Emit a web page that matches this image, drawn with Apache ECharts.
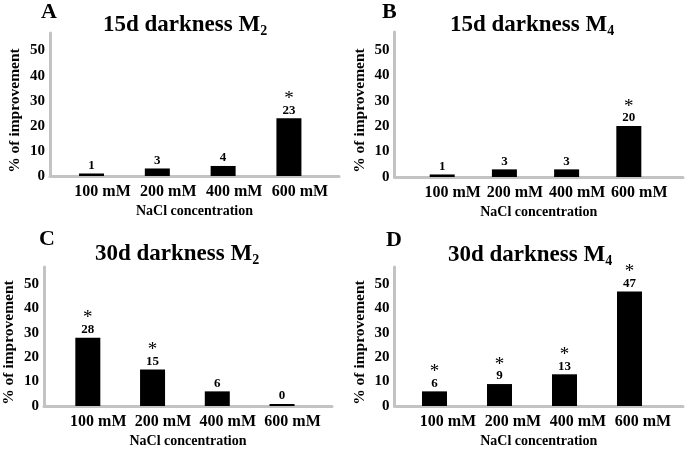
<!DOCTYPE html>
<html>
<head>
<meta charset="utf-8">
<script src="https://cdn.jsdelivr.net/npm/echarts@6/dist/echarts.min.js"></script>
<style>html,body{margin:0;padding:0;background:#fff}#c{width:685px;height:449px}</style>
</head>
<body>
<div id="c"></div>
<script>
// ---- data ----
const categories = ['100 mM', '200 mM', '400 mM', '600 mM'];
const categoryIndex = [1, 2, 3, 4];
const yTicks = [0, 10, 20, 30, 40, 50];
const panelLetters = ['A', 'B', 'C', 'D'];
const panelTitles = ['15d darkness M', '15d darkness M', '30d darkness M', '30d darkness M'];
const panelSubs = ['2', '4', '2', '4'];
const valuesA = [1, 3, 4, 23];
const valuesB = [1, 3, 3, 20];
const valuesC = [28, 15, 6, 0];
const valuesD = [6, 9, 13, 47];
const sigA = [0, 0, 0, 1];
const sigB = [0, 0, 0, 1];
const sigC = [1, 1, 0, 0];
const sigD = [1, 1, 1, 1];
const yName = '% of improvement';
const xName = 'NaCl concentration';

// ---- layout ----
const FONT = 'Liberation Serif';
const AXIS_GREY = '#c3c3c3';
const panels = [
  { values: valuesA, sig: sigA, grid: { left: 50, top: 33, width: 289, height: 143 }, xr: [0.369, 4.761], shift: 22,
    title: { left: 103, top: 12 }, letter: { left: 41, top: 1 } },
  { values: valuesB, sig: sigB, grid: { left: 394.5, top: 32, width: 288.5, height: 145 }, xr: [0.233, 4.871], shift: 21,
    title: { left: 450, top: 12 }, letter: { left: 382, top: 1 } },
  { values: valuesC, sig: sigC, grid: { left: 41, top: 267, width: 291, height: 142.5 }, xr: [0.323, 4.772], shift: 21,
    title: { left: 95, top: 241 }, letter: { left: 39, top: 228 } },
  { values: valuesD, sig: sigD, grid: { left: 394.5, top: 267, width: 288.5, height: 141.5 }, xr: [0.385, 4.823], shift: 27,
    title: { left: 448, top: 242 }, letter: { left: 386, top: 229 } }
];

const option = {
  animation: false,
  backgroundColor: '#fff',
  textStyle: { fontFamily: FONT },
  title: [],
  grid: [],
  xAxis: [],
  yAxis: [],
  series: []
};

panels.forEach((p, i) => {
  option.grid.push(Object.assign({ containLabel: false }, p.grid));
  option.title.push({
    text: '{m|' + panelTitles[i] + '}{s|' + panelSubs[i] + '}',
    left: p.title.left, top: p.title.top, padding: 0,
    textStyle: {
      rich: {
        m: { fontFamily: FONT, fontWeight: 'bold', fontSize: 23, lineHeight: 26, color: '#000' },
        s: { fontFamily: FONT, fontWeight: 'bold', fontSize: 14, lineHeight: 8, verticalAlign: 'bottom', color: '#000' }
      }
    }
  });
  option.title.push({
    text: panelLetters[i], left: p.letter.left, top: p.letter.top, padding: 0,
    textStyle: { fontFamily: FONT, fontWeight: 'bold', fontSize: 22, color: '#000' }
  });
  option.xAxis.push({
    type: 'value', gridIndex: i, min: p.xr[0], max: p.xr[1], offset: 2,
    axisLine: { show: true, lineStyle: { color: AXIS_GREY, width: 3 } },
    axisTick: { show: false },
    splitLine: { show: false },
    axisLabel: {
      customValues: categoryIndex,
      formatter: v => categories[Math.round(v) - 1],
      fontFamily: FONT, fontWeight: 'bold', fontSize: 16, color: '#000', margin: 6,
      padding: [0, 0, 0, p.shift]
    },
    name: xName, nameLocation: 'middle', nameGap: 26,
    nameTextStyle: { fontFamily: FONT, fontWeight: 'bold', fontSize: 14, color: '#000' }
  });
  option.yAxis.push({
    type: 'value', gridIndex: i, min: 0, max: 57, interval: 10,
    axisLine: { show: true, lineStyle: { color: AXIS_GREY, width: 3 } },
    axisTick: { show: false },
    splitLine: { show: false },
    axisLabel: {
      customValues: yTicks,
      fontFamily: FONT, fontWeight: 'bold', fontSize: 15, color: '#000', margin: 5
    },
    name: yName, nameLocation: 'middle', nameGap: 27, nameRotate: 90,
    nameTextStyle: { fontFamily: FONT, fontWeight: 'bold', fontSize: 15.5, color: '#000', padding: [0, 12, 0, 0] }
  });
  option.series.push({
    type: 'bar', xAxisIndex: i, yAxisIndex: i,
    barWidth: 25, barMinHeight: 2,
    itemStyle: { color: '#000' },
    data: p.values.map((v, k) => [categoryIndex[k], v]),
    label: {
      show: true, position: 'top', distance: 2,
      formatter: prm => (p.sig[prm.dataIndex] ? '{s|*}\n' : '') + '{v|' + p.values[prm.dataIndex] + '}',
      rich: {
        s: { fontFamily: FONT, fontSize: 19, lineHeight: 11, color: '#000' },
        v: { fontFamily: FONT, fontWeight: 'bold', fontSize: 13, lineHeight: 12, color: '#000' }
      }
    }
  });
});

const chart = echarts.init(document.getElementById('c'), null, { renderer: 'canvas' });
chart.setOption(option);
</script>
</body>
</html>
